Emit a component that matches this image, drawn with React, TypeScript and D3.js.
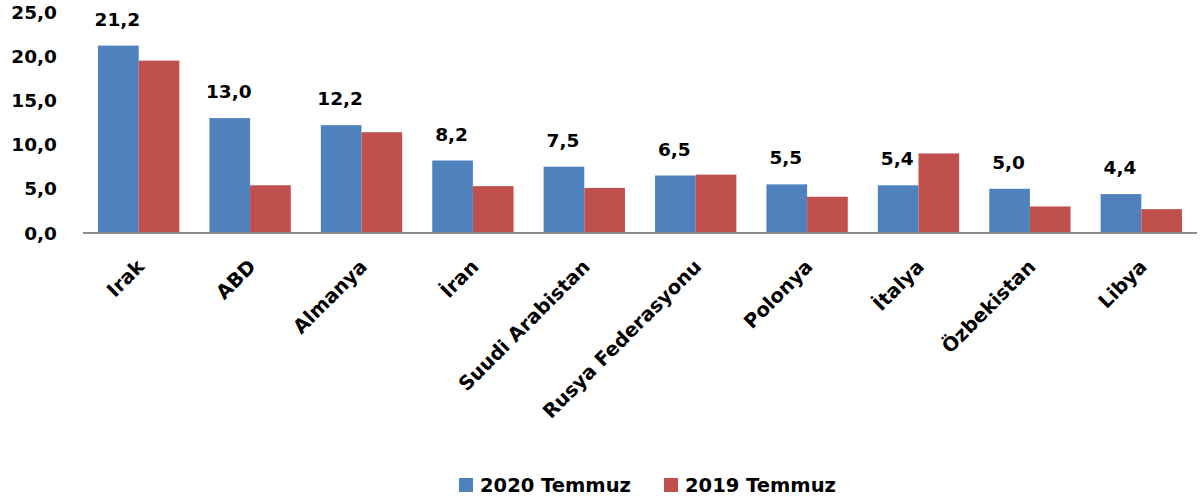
import React from 'react';
import * as d3 from 'd3';

const countries = ['Irak', 'ABD', 'Almanya', 'İran', 'Suudi Arabistan', 'Rusya Federasyonu', 'Polonya', 'İtalya', 'Özbekistan', 'Libya'];
const values2020 = [21.2, 13.0, 12.2, 8.2, 7.5, 6.5, 5.5, 5.4, 5.0, 4.4];
const values2019 = [19.5, 5.4, 11.4, 5.3, 5.1, 6.6, 4.1, 9.0, 3.0, 2.7];
const seriesNames = ['2020 Temmuz', '2019 Temmuz'];
const yTicks = [0, 5, 10, 15, 20, 25];

const colors = ['#4F81BD', '#C0504D'];
const font = '"DejaVu Sans", sans-serif';
const fmt = (v: number) => v.toFixed(1).replace('.', ',');

const App: React.FC = () => {
  const width = 1202;
  const height = 504;

  const x = d3.scaleBand<string>().domain(countries).range([83, 1197]);
  const inner = d3.scaleBand<number>().domain([0, 1]).range([0, x.bandwidth()]).paddingInner(0).paddingOuter(0.37);
  const y = d3.scaleLinear().domain([0, 25]).range([233, 12]);

  const series = [values2020, values2019];

  return (
    <svg width={width} height={height} style={{ position: 'absolute', left: 0, top: 0, background: '#fff' }}>
      {/* y tick labels */}
      <g fontFamily={font} fontWeight="bold" fontSize={18.5} fill="#000">
        {yTicks.map(t => (
          <text key={t} x={57} y={y(t)} dy="0.36em" textAnchor="end">{fmt(t)}</text>
        ))}
      </g>

      {/* bars */}
      {series.map((vals, si) => (
        <g key={si} fill={colors[si]}>
          {countries.map((c, i) => (
            <rect
              key={c}
              x={(x(c) ?? 0) + (inner(si) ?? 0)}
              y={y(vals[i])}
              width={inner.bandwidth()}
              height={y(0) - y(vals[i])}
            />
          ))}
        </g>
      ))}

      {/* x axis line */}
      <line x1={83} x2={1197} y1={y(0)} y2={y(0)} stroke="#8C8C8C" strokeWidth={2} />

      {/* value labels for 2020 */}
      <g fontFamily={font} fontWeight="bold" fontSize={18.5} fill="#000" textAnchor="middle">
        {countries.map((c, i) => (
          <text key={c} x={(x(c) ?? 0) + (inner(0) ?? 0) + inner.bandwidth() / 2 - 1} y={y(values2020[i]) - 20}>
            {fmt(values2020[i])}
          </text>
        ))}
      </g>

      {/* category labels */}
      <g fontFamily={font} fontWeight="bold" fontSize={19.5} fill="#000">
        {countries.map(c => {
          const cx = (x(c) ?? 0) + x.bandwidth() / 2 + 2;
          const cy = 263;
          return (
            <text key={c} transform={`translate(${cx},${cy}) rotate(-45)`} textAnchor="end" dy="0.35em">{c}</text>
          );
        })}
      </g>

      {/* legend */}
      <g fontFamily={font} fontWeight="bold" fontSize={19.5} fill="#000">
        {seriesNames.map((s, i) => {
          const lx = 459 + i * 205;
          return (
            <g key={s}>
              <rect x={lx} y={478} width={14} height={14} fill={colors[i]} />
              <text x={lx + 21} y={485} dy="0.36em">{s}</text>
            </g>
          );
        })}
      </g>
    </svg>
  );
};

export default App;
